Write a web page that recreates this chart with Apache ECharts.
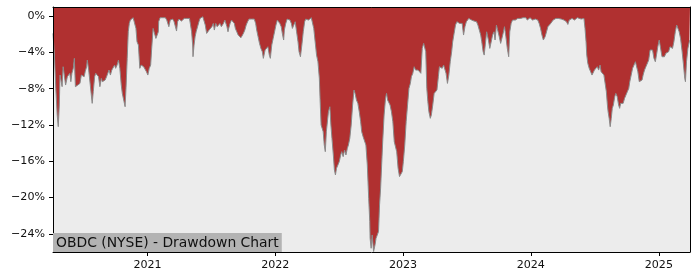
<!DOCTYPE html>
<html>
<head>
<meta charset="utf-8">
<script src="https://cdn.jsdelivr.net/npm/echarts@6/dist/echarts.min.js"></script>
<style>
html,body{margin:0;padding:0;background:#fff;}
#chart{width:700px;height:280px;}
</style>
</head>
<body>
<div id="chart"></div>
<script>
const chartTitle = 'OBDC (NYSE) - Drawdown Chart';
const yearTicks = ['2021', '2022', '2023', '2024', '2025'];
const yTicks = [0, -4, -8, -12, -16, -20, -24];
const xRange = ['2020-04-06', '2025-03-31'];
const yRange = [-26, 1];

const dates = [
'2020-04-06','2020-04-10','2020-04-14','2020-04-18','2020-04-21','2020-04-24','2020-04-26','2020-04-29','2020-05-02','2020-05-05',
'2020-05-09','2020-05-12','2020-05-14','2020-05-17','2020-05-20','2020-05-24','2020-05-27','2020-05-30','2020-06-03','2020-06-06',
'2020-06-09','2020-06-12','2020-06-16','2020-06-20','2020-06-22','2020-06-26','2020-06-30','2020-07-04','2020-07-07','2020-07-11',
'2020-07-13','2020-07-17','2020-07-20','2020-07-24','2020-07-27','2020-07-30','2020-08-03','2020-08-06','2020-08-10','2020-08-14',
'2020-08-18','2020-08-22','2020-08-25','2020-08-29','2020-09-02','2020-09-06','2020-09-10','2020-09-13','2020-09-17','2020-09-21',
'2020-09-25','2020-09-29','2020-10-02','2020-10-06','2020-10-10','2020-10-14','2020-10-18','2020-10-21','2020-10-25','2020-10-29',
'2020-11-01','2020-11-04','2020-11-07','2020-11-10','2020-11-13','2020-11-17','2020-11-21','2020-11-25','2020-11-29','2020-12-02',
'2020-12-06','2020-12-10','2020-12-14','2020-12-18','2020-12-21','2020-12-25','2020-12-29','2021-01-02','2021-01-06','2021-01-10',
'2021-01-13','2021-01-17','2021-01-21','2021-01-25','2021-01-29','2021-02-01',
'2021-02-02','2021-02-06','2021-02-10','2021-02-14','2021-02-18','2021-02-21','2021-02-25','2021-03-01','2021-03-03','2021-03-07',
'2021-03-11','2021-03-14','2021-03-18','2021-03-22','2021-03-25','2021-03-28','2021-04-01','2021-04-04','2021-04-08','2021-04-12',
'2021-04-16','2021-04-20','2021-04-23','2021-04-27','2021-05-01','2021-05-04','2021-05-07','2021-05-10','2021-05-11','2021-05-14',
'2021-05-17','2021-05-20','2021-05-24','2021-05-28','2021-05-31','2021-06-04','2021-06-08','2021-06-12','2021-06-15','2021-06-19',
'2021-06-22','2021-06-26','2021-06-30','2021-07-04','2021-07-08','2021-07-11','2021-07-15','2021-07-19','2021-07-23','2021-07-27',
'2021-07-31','2021-08-03','2021-08-06','2021-08-10','2021-08-13','2021-08-16','2021-08-19','2021-08-21','2021-08-25','2021-08-29',
'2021-09-02','2021-09-06','2021-09-09','2021-09-13','2021-09-17','2021-09-21','2021-09-25','2021-09-29','2021-10-02','2021-10-06',
'2021-10-10','2021-10-14','2021-10-18','2021-10-21','2021-10-25','2021-10-29','2021-11-02','2021-11-06','2021-11-09','2021-11-13',
'2021-11-17','2021-11-21','2021-11-25','2021-11-28',
'2021-12-03','2021-12-07','2021-12-11','2021-12-15','2021-12-18','2021-12-22','2021-12-26','2021-12-30','2022-01-03','2022-01-07',
'2022-01-10','2022-01-14','2022-01-18','2022-01-22','2022-01-25','2022-01-27','2022-01-31','2022-02-04','2022-02-08','2022-02-12',
'2022-02-16','2022-02-19','2022-02-23','2022-02-27','2022-03-03','2022-03-07','2022-03-10','2022-03-14','2022-03-18','2022-03-22',
'2022-03-26','2022-03-29','2022-04-02','2022-04-06','2022-04-10','2022-04-14','2022-04-17','2022-04-21','2022-04-25','2022-04-29',
'2022-05-03','2022-05-07','2022-05-09','2022-05-12','2022-05-15','2022-05-18','2022-05-21','2022-05-24','2022-05-27','2022-05-29',
'2022-06-02','2022-06-06','2022-06-09','2022-06-12','2022-06-16','2022-06-19','2022-06-22','2022-06-25','2022-06-29','2022-07-03',
'2022-07-07','2022-07-10','2022-07-14','2022-07-18','2022-07-22','2022-07-26','2022-07-29','2022-08-02','2022-08-06','2022-08-10',
'2022-08-14','2022-08-17','2022-08-21','2022-08-25','2022-08-29','2022-09-02','2022-09-05','2022-09-09','2022-09-13','2022-09-17',
'2022-09-21','2022-09-25','2022-09-28',
'2022-09-29','2022-10-02','2022-10-05','2022-10-09','2022-10-13','2022-10-16','2022-10-20','2022-10-23','2022-10-26','2022-10-29',
'2022-11-01','2022-11-04','2022-11-08','2022-11-12','2022-11-15','2022-11-18','2022-11-22','2022-11-25','2022-11-29','2022-12-03',
'2022-12-07','2022-12-11','2022-12-14','2022-12-18','2022-12-22','2022-12-26','2022-12-30','2023-01-02','2023-01-06','2023-01-10',
'2023-01-14','2023-01-18','2023-01-22','2023-01-25','2023-01-29','2023-02-02','2023-02-06','2023-02-10','2023-02-13','2023-02-17',
'2023-02-21','2023-02-25','2023-03-01','2023-03-04','2023-03-07','2023-03-10','2023-03-13','2023-03-16','2023-03-20','2023-03-23',
'2023-03-27','2023-03-31','2023-04-04','2023-04-08','2023-04-12','2023-04-15','2023-04-19','2023-04-23','2023-04-27','2023-05-01',
'2023-05-04','2023-05-08','2023-05-12','2023-05-16','2023-05-20','2023-05-23','2023-05-27','2023-05-31','2023-06-04','2023-06-08',
'2023-06-12','2023-06-15','2023-06-19','2023-06-23','2023-06-27','2023-07-01','2023-07-04','2023-07-08','2023-07-12','2023-07-16',
'2023-07-20','2023-07-23',
'2023-07-26','2023-07-30','2023-08-03','2023-08-07','2023-08-11','2023-08-14','2023-08-18','2023-08-21','2023-08-24','2023-08-28',
'2023-08-31','2023-09-02','2023-09-06','2023-09-10','2023-09-14','2023-09-18','2023-09-21','2023-09-25','2023-09-29','2023-10-03',
'2023-10-07','2023-10-11','2023-10-14','2023-10-18','2023-10-22','2023-10-26','2023-10-30','2023-11-02','2023-11-06','2023-11-10',
'2023-11-14','2023-11-18','2023-11-21','2023-11-25','2023-11-29','2023-12-03','2023-12-07','2023-12-10','2023-12-14','2023-12-18',
'2023-12-22','2023-12-26','2023-12-30','2024-01-02','2024-01-06','2024-01-10','2024-01-14','2024-01-18','2024-01-21','2024-01-25',
'2024-01-29','2024-02-02','2024-02-06','2024-02-09','2024-02-11','2024-02-15','2024-02-19','2024-02-23','2024-02-27','2024-03-01',
'2024-03-05','2024-03-09','2024-03-13','2024-03-17','2024-03-20','2024-03-24','2024-03-28','2024-04-01','2024-04-05','2024-04-08',
'2024-04-12','2024-04-16','2024-04-20','2024-04-24','2024-04-28','2024-05-01','2024-05-05','2024-05-09','2024-05-13','2024-05-17',
'2024-05-24','2024-05-28','2024-06-01','2024-06-04','2024-06-07','2024-06-09','2024-06-12','2024-06-16','2024-06-20','2024-06-24',
'2024-06-28','2024-07-01','2024-07-05','2024-07-09','2024-07-13','2024-07-17','2024-07-20','2024-07-24','2024-07-28','2024-08-01',
'2024-08-04','2024-08-07','2024-08-09','2024-08-12','2024-08-15','2024-08-18','2024-08-21','2024-08-24','2024-08-28','2024-08-31',
'2024-09-04','2024-09-08','2024-09-11','2024-09-14','2024-09-18','2024-09-21','2024-09-25','2024-09-29','2024-10-03','2024-10-07',
'2024-10-10','2024-10-14','2024-10-18','2024-10-22','2024-10-26','2024-10-29','2024-11-02','2024-11-06','2024-11-10','2024-11-14',
'2024-11-17','2024-11-21','2024-11-25','2024-11-29','2024-12-03','2024-12-07','2024-12-10','2024-12-14','2024-12-18','2024-12-22',
'2024-12-26','2024-12-29','2025-01-02','2025-01-06','2025-01-10','2025-01-14','2025-01-17','2025-01-21','2025-01-25','2025-01-29',
'2025-02-02','2025-02-05','2025-02-09','2025-02-13','2025-02-17','2025-02-21','2025-02-25','2025-02-28','2025-03-04','2025-03-08',
'2025-03-12','2025-03-16','2025-03-18','2025-03-21','2025-03-25','2025-03-29','2025-03-31'
];

const drawdown = [
-1.91,-4.30,-7.97,-10.90,-12.19,-9.80,-6.50,-6.68,-7.78,-5.58,
-5.76,-7.60,-7.78,-6.68,-6.50,-6.31,-7.23,-6.31,-5.76,-4.66,
-7.78,-7.78,-7.60,-7.78,-7.42,-6.50,-6.31,-6.68,-6.13,-5.58,
-4.85,-5.95,-7.05,-8.52,-9.62,-8.33,-6.68,-6.31,-6.31,-6.68,
-7.78,-6.87,-7.23,-7.05,-7.05,-6.68,-6.50,-5.95,-6.50,-5.95,
-5.76,-5.40,-5.76,-5.40,-4.85,-5.76,-7.60,-8.52,-8.70,-9.99,
-7.60,-4.66,-1.73,-0.81,-0.44,-0.26,-0.18,-0.26,-1.36,-2.83,
-3.19,-5.76,-5.40,-5.40,-5.58,-5.58,-6.13,-6.50,-5.76,-5.40,
-3.56,-1.36,-1.36,-2.46,-2.46,-1.73,
-0.60,-0.18,-0.26,-0.18,-0.33,-0.18,-0.44,-0.26,-1.17,-0.44,
-0.44,-0.33,-0.62,-0.44,-1.65,-0.62,-0.33,-0.44,-0.55,-0.33,
-0.26,-0.18,-0.26,-0.26,-0.26,-0.44,-1.73,-3.19,-4.48,-3.19,
-2.28,-1.73,-1.17,-0.62,-0.26,-0.18,-0.07,-0.18,-0.99,-1.91,
-1.73,-1.54,-1.65,-1.17,-0.81,-1.54,-0.81,-1.17,-0.99,-0.81,
-1.17,-1.36,-0.81,-0.44,-0.26,-1.17,-1.73,-1.36,-0.81,-0.44,
-0.55,-0.81,-1.36,-1.73,-2.09,-2.28,-2.39,-2.28,-1.91,-1.54,
-0.99,-0.62,-0.33,-0.18,-0.33,-0.44,-0.33,-0.81,-1.54,-2.28,
-3.01,-3.56,-3.93,-4.66,
-3.74,-3.93,-3.38,-4.30,-4.66,-3.19,-2.46,-1.73,-0.99,-0.44,
-0.26,-0.81,-1.17,-2.09,-2.64,-1.54,-0.81,-0.33,-0.18,-0.44,
-0.81,-1.36,-0.99,-0.62,-1.73,-2.83,-3.93,-4.48,-3.19,-1.73,
-0.62,-0.33,-0.26,-0.44,-0.33,-0.18,-0.26,-1.36,-2.83,-4.30,
-5.03,-6.87,-9.07,-12.00,-12.37,-12.74,-14.21,-14.94,-12.74,-12.00,
-10.54,-9.99,-12.00,-13.47,-15.31,-16.96,-17.51,-16.78,-16.41,-16.04,
-15.31,-14.94,-15.49,-14.76,-15.31,-14.57,-14.21,-13.47,-12.00,-9.80,
-8.15,-8.52,-9.25,-9.62,-10.54,-11.64,-12.74,-13.29,-13.47,-14.21,
-16.41,-20.08,-22.65,
-24.49,-25.59,-24.12,-25.95,-25.22,-24.49,-24.49,-23.75,-20.81,-18.98,
-16.41,-13.84,-10.90,-9.07,-8.52,-9.25,-9.07,-9.80,-10.54,-11.64,
-13.84,-14.02,-14.94,-16.78,-17.69,-17.51,-17.14,-16.04,-14.21,-11.64,
-9.80,-7.97,-7.42,-6.68,-6.31,-5.58,-5.95,-6.13,-5.95,-6.13,
-6.31,-3.56,-3.01,-3.01,-3.93,-7.97,-9.43,-10.54,-11.27,-10.90,
-9.80,-8.52,-8.33,-8.15,-6.68,-5.58,-5.40,-5.76,-5.40,-5.21,
-6.31,-7.42,-6.50,-5.03,-3.93,-2.83,-1.91,-0.99,-0.62,-0.44,
-0.81,-0.99,-0.81,-2.09,-1.17,-0.62,-0.44,-0.26,-0.26,-0.44,
-0.33,-0.55,
-0.33,-0.62,-0.99,-1.54,-2.09,-2.83,-3.93,-4.30,-3.19,-1.73,
-1.73,-2.64,-3.56,-3.74,-2.09,-1.73,-2.64,-0.99,-0.81,-2.28,
-3.01,-3.19,-1.91,-1.17,-2.28,-3.56,-4.48,-1.73,-0.81,-0.44,
-0.26,-0.44,-0.33,-0.26,-0.33,-0.26,-0.26,-0.18,-0.33,-0.18,
-0.44,-0.26,-0.18,-0.33,-0.44,-0.26,-0.33,-0.26,-0.44,-0.81,
-1.36,-2.09,-2.64,-2.83,-2.28,-1.73,-1.17,-0.99,-0.81,-0.62,
-0.44,-0.33,-0.26,-0.18,-0.26,-0.18,-0.33,-0.26,-0.44,-0.33,
-0.62,-0.92,-0.44,-0.33,-0.26,-0.18,-0.44,-0.26,-0.18,-0.33,
-0.33,-0.18,-0.26,-1.36,-2.83,-4.30,-5.21,-5.76,-5.95,-6.50,
-6.68,-5.95,-6.13,-5.58,-5.95,-5.40,-6.13,-5.95,-6.50,-6.50,
-8.33,-9.80,-10.54,-11.27,-12.19,-11.27,-10.17,-9.80,-8.88,-8.52,
-8.88,-9.80,-10.17,-9.62,-9.43,-9.62,-9.07,-8.70,-8.33,-7.97,
-7.23,-6.50,-5.76,-5.40,-5.03,-5.21,-6.13,-7.23,-7.42,-7.05,
-6.50,-5.95,-5.58,-5.40,-4.85,-3.74,-3.93,-3.74,-4.66,-5.03,
-4.11,-3.38,-2.64,-2.46,-4.48,-4.30,-4.48,-4.11,-4.30,-3.93,
-3.38,-3.56,-3.56,-2.83,-1.73,-0.99,-1.17,-1.73,-2.46,-3.74,
-5.21,-6.87,-7.23,-5.03,-3.56,-2.83,-2.64
];

// parse 'YYYY-MM-DD' to a UTC timestamp (date values only)
const toTs = s => { const p = s.split('-').map(Number); return Date.UTC(p[0], (p[1] || 1) - 1, p[2] || 1); };
const seriesData = dates.map((d, i) => [toTs(d), drawdown[i]]);
const xTickValues = yearTicks.map(y => toTs(y + '-01-01'));
const FONT = 'DejaVu Sans';
const minus = '\u2212';

const chart = echarts.init(document.getElementById('chart'), null, { renderer: 'canvas' });
chart.setOption({
  animation: false,
  backgroundColor: '#ffffff',
  title: {
    text: chartTitle,
    left: 53,
    bottom: 28,
    padding: [3, 3, 2, 3],
    backgroundColor: '#b3b3b3',
    textStyle: { fontFamily: FONT, fontSize: 13.9, fontWeight: 'normal', color: '#111', lineHeight: 14 }
  },
  grid: { left: 53, right: 10, top: 7, bottom: 28, show: true, backgroundColor: '#ececec', borderWidth: 0 },
  xAxis: [{
    type: 'value',
    min: toTs(xRange[0]), max: toTs(xRange[1]),
    z: 5,
    axisLine: { show: true, onZero: false, lineStyle: { color: '#000', width: 1 } },
    axisTick: { show: true, length: 4, lineStyle: { color: '#000' }, customValues: xTickValues },
    axisLabel: {
      show: true, margin: 8, fontFamily: FONT, fontSize: 11.1, color: '#111',
      customValues: xTickValues,
      formatter: v => yearTicks[xTickValues.indexOf(v)] !== undefined ? yearTicks[xTickValues.indexOf(v)] : String(new Date(v).getUTCFullYear())
    },
    splitLine: { show: false }
  }, {
    type: 'value', position: 'top',
    min: toTs(xRange[0]), max: toTs(xRange[1]), z: 5,
    axisLine: { show: true, onZero: false, lineStyle: { color: '#000', width: 1 } },
    axisTick: { show: false }, axisLabel: { show: false }, splitLine: { show: false }
  }],
  yAxis: [{
    type: 'value',
    min: yRange[0], max: yRange[1], z: 5,
    axisLine: { show: true, onZero: false, lineStyle: { color: '#000', width: 1 } },
    axisTick: { show: true, length: 4, lineStyle: { color: '#000' }, customValues: yTicks },
    axisLabel: {
      show: true, margin: 8, fontFamily: FONT, fontSize: 11.1, color: '#111',
      customValues: yTicks,
      formatter: v => (v < 0 ? minus : '') + Math.abs(v) + '%'
    },
    splitLine: { show: false }
  }, {
    type: 'value', position: 'right',
    min: yRange[0], max: yRange[1], z: 5,
    axisLine: { show: true, onZero: false, lineStyle: { color: '#000', width: 1 } },
    axisTick: { show: false }, axisLabel: { show: false }, splitLine: { show: false }
  }],
  series: [{
    type: 'line',
    data: seriesData,
    xAxisIndex: 0, yAxisIndex: 0,
    showSymbol: false,
    symbol: 'none',
    lineStyle: { color: '#8a8a8a', width: 1 },
    areaStyle: { color: '#b03030', opacity: 1, origin: 'end' },
    z: 2
  }]
});
</script>
</body>
</html>
